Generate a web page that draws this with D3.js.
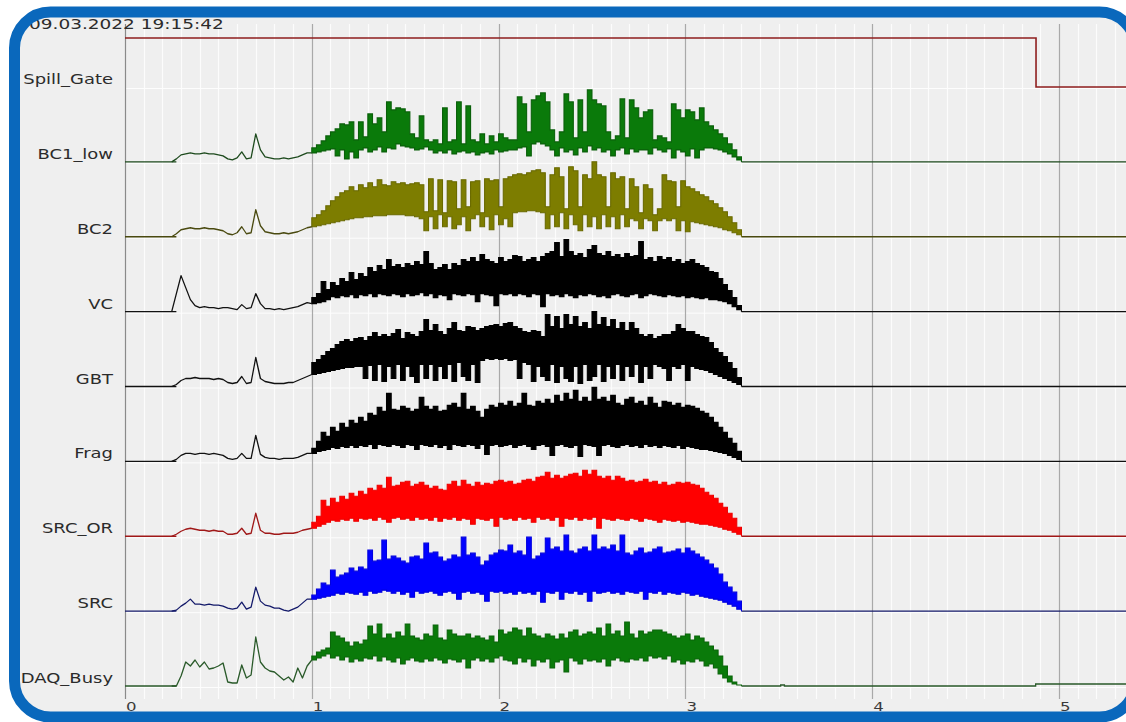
<!DOCTYPE html>
<html>
<head>
<meta charset="utf-8">
<script src="https://cdn.jsdelivr.net/npm/d3@7"></script>
<style>
  body { margin: 0; background: #fff; }
  text { font-family: "DejaVu Sans", Verdana, sans-serif; fill: #2b2b2b; }
</style>
</head>
<body>
<div class="vis-container"></div>
<script>
/* global d3 */

const TIMESTAMP = '09.03.2022 19:15:42';
const CHANNELS = ['Spill_Gate', 'BC1_low', 'BC2', 'VC', 'GBT', 'Frag', 'SRC_OR', 'SRC', 'DAQ_Busy'];
const X_TICKS = [0, 1, 2, 3, 4, 5];

// samples are uniform in time, first one at 0.275
const SAMPLE_START = 0.275;
const SAMPLE_STEP = 0.025;

const spillGateTimes = [0, 4.877];
const spillGateValues = [1, 0];

// quiet part before the spill (t = 0.275 .. 0.95), then min / max envelope (t = 1.0 .. 3.3)
const bc1LowTrace = [3, 7, 8, 9, 8, 8, 9, 8, 8, 7, 6, 3, 2, 4, 10, 3, 4, 28, 12, 5, 4, 3, 3, 4, 3, 4, 5, 7, 9];
const bc1LowMin = [
  9, 10, 11, 12, 13, 6, 12, 3, 10, 4,
  12, 14, 10, 12, 15, 10, 14, 13, 18, 16,
  15, 14, 12, 13, 15, 12, 9, 11, 9, 12,
  8, 10, 11, 9, 10, 7, 9, 10, 8, 12,
  10, 11, 12, 12, 14, 15, 6, 18, 20, 18,
  16, 12, 6, 14, 10, 12, 7, 14, 10, 16,
  12, 14, 10, 12, 6, 12, 14, 8, 13, 10,
  12, 12, 8, 14, 12, 10, 13, 4, 12, 10,
  6, 13, 4, 12, 14, 14, 13, 12, 10, 8,
  5, 2, 0];
const bc1LowMax = [
  14, 17, 21, 26, 30, 33, 38, 37, 40, 22,
  40, 25, 48, 38, 44, 30, 60, 52, 54, 53,
  50, 28, 24, 46, 22, 20, 22, 18, 54, 20,
  22, 60, 18, 56, 22, 20, 28, 18, 26, 20,
  28, 24, 22, 22, 65, 58, 30, 62, 66, 69,
  60, 32, 20, 30, 68, 60, 24, 62, 30, 72,
  62, 58, 56, 30, 22, 26, 63, 24, 62, 54,
  44, 50, 52, 22, 26, 24, 20, 58, 52, 44,
  52, 50, 42, 54, 40, 36, 32, 28, 24, 18,
  12, 5, 0];

const bc2Trace = [3, 7, 8, 9, 8, 8, 9, 8, 8, 7, 6, 3, 2, 4, 10, 3, 4, 27, 11, 5, 4, 3, 3, 4, 3, 4, 5, 7, 9];
const bc2Min = [
  10, 11, 12, 13, 14, 15, 16, 17, 18, 19,
  19, 20, 20, 21, 21, 21, 22, 22, 22, 22,
  21, 21, 20, 18, 6, 20, 8, 22, 10, 20,
  8, 12, 20, 6, 18, 22, 10, 20, 7, 22,
  12, 18, 10, 24, 25, 25, 26, 26, 25, 24,
  8, 22, 10, 24, 8, 22, 12, 6, 22, 10,
  20, 8, 22, 10, 20, 8, 22, 10, 18, 16,
  8, 18, 16, 6, 16, 18, 16, 18, 6, 16,
  5, 15, 14, 13, 12, 11, 10, 9, 7, 6,
  4, 2, 0];
const bc2Max = [
  19, 22, 26, 31, 36, 40, 44, 46, 50, 46,
  52, 49, 54, 50, 57, 52, 51, 55, 53, 54,
  52, 53, 54, 52, 25, 58, 26, 57, 24, 56,
  55, 28, 57, 30, 55, 56, 24, 58, 56, 57,
  30, 58, 60, 62, 63, 62, 64, 66, 67, 64,
  30, 62, 69, 60, 28, 70, 66, 30, 62, 58,
  75, 62, 60, 30, 64, 58, 60, 28, 58, 50,
  24, 52, 48, 22, 28, 62, 56, 55, 30, 56,
  50, 48, 45, 42, 40, 36, 33, 29, 25, 20,
  14, 7, 0];

const vcTrace = [18, 36, 24, 12, 6, 4, 5, 4, 4, 3, 4, 4, 3, 2, 7, 3, 4, 18, 8, 3, 3, 2, 3, 2, 3, 4, 5, 7, 9];
const vcMin = [
  8, 9, 10, 12, 15, 14, 16, 15, 17, 14,
  17, 16, 18, 15, 18, 17, 16, 18, 17, 15,
  18, 16, 17, 19, 16, 18, 14, 17, 16, 12,
  18, 17, 16, 18, 17, 10, 18, 17, 16, 6,
  18, 17, 18, 16, 18, 17, 15, 18, 17, 5,
  18, 16, 17, 15, 18, 16, 14, 17, 16, 18,
  17, 15, 16, 14, 17, 18, 16, 15, 17, 18,
  14, 16, 18, 17, 16, 15, 17, 16, 15, 16,
  14, 15, 14, 13, 14, 12, 12, 11, 10, 8,
  5, 2, 0];
const vcMax = [
  14, 18, 30, 22, 29, 26, 33, 30, 39, 32,
  38, 35, 44, 40, 46, 42, 52, 45, 47, 44,
  48, 46, 50, 47, 60, 48, 42, 44, 47, 42,
  48, 46, 52, 50, 54, 50, 57, 52, 50, 48,
  54, 50, 52, 56, 55, 50, 52, 54, 50, 55,
  58, 60, 69, 55, 72, 60, 56, 58, 54, 62,
  66, 58, 56, 60, 55, 57, 54, 58, 55, 56,
  70, 52, 54, 50, 55, 52, 54, 50, 52, 48,
  50, 52, 48, 46, 44, 40, 39, 33, 27, 21,
  14, 6, 0];

const gbtTrace = [2, 6, 8, 8, 9, 8, 8, 8, 7, 8, 7, 4, 3, 4, 10, 3, 4, 29, 8, 5, 4, 3, 3, 3, 4, 4, 6, 8, 10];
const gbtMin = [
  12, 13, 14, 15, 16, 17, 18, 19, 19, 20,
  20, 8, 21, 6, 22, 5, 20, 8, 22, 6,
  20, 10, 4, 22, 8, 22, 6, 20, 8, 22,
  5, 24, 10, 6, 22, 4, 26, 28, 27, 28,
  27, 28, 26, 27, 8, 24, 22, 5, 20, 10,
  6, 22, 4, 20, 8, 5, 20, 3, 22, 6,
  10, 22, 5, 20, 8, 22, 6, 20, 10, 22,
  4, 20, 8, 22, 20, 18, 6, 20, 18, 22,
  6, 20, 18, 17, 16, 14, 12, 10, 8, 6,
  4, 2, 0];
const gbtMax = [
  24, 27, 31, 35, 38, 42, 45, 47, 45, 48,
  49, 46, 50, 54, 50, 52, 50, 53, 57, 48,
  54, 52, 50, 55, 67, 56, 62, 55, 52, 58,
  64, 56, 55, 60, 59, 56, 58, 60, 61, 62,
  60, 63, 64, 60, 58, 55, 54, 56, 55, 50,
  72, 60, 70, 58, 72, 62, 70, 60, 64, 58,
  75, 62, 69, 60, 67, 58, 64, 56, 64, 58,
  52, 50, 52, 48, 50, 52, 52, 55, 62, 58,
  55, 55, 52, 50, 49, 44, 38, 34, 30, 24,
  18, 9, 0];

const fragTrace = [2, 6, 8, 8, 7, 8, 8, 7, 8, 7, 6, 3, 2, 3, 8, 3, 3, 26, 7, 4, 3, 3, 2, 3, 3, 3, 4, 6, 8];
const fragMin = [
  8, 10, 11, 12, 14, 13, 15, 14, 16, 14,
  16, 15, 17, 13, 17, 16, 15, 17, 16, 14,
  17, 16, 12, 17, 16, 15, 17, 14, 16, 12,
  17, 16, 15, 17, 16, 13, 17, 7, 16, 17,
  15, 16, 17, 14, 16, 17, 15, 12, 16, 17,
  15, 6, 16, 17, 15, 14, 16, 5, 17, 16,
  15, 6, 16, 17, 15, 14, 16, 17, 15, 16,
  14, 17, 15, 16, 14, 16, 15, 14, 16, 13,
  15, 14, 13, 12, 12, 11, 10, 9, 8, 6,
  4, 2, 0];
const fragMax = [
  13, 20, 29, 25, 34, 30, 38, 34, 41, 38,
  44, 40, 48, 46, 54, 50, 68, 52, 51, 55,
  53, 50, 52, 64, 55, 52, 55, 50, 51, 56,
  58, 54, 68, 52, 55, 50, 44, 52, 56, 54,
  58, 56, 60, 55, 58, 68, 56, 55, 60, 58,
  62, 58, 66, 60, 68, 62, 71, 60, 64, 60,
  74, 62, 64, 60, 66, 58, 56, 62, 64, 58,
  60, 56, 64, 58, 54, 60, 59, 56, 58, 54,
  56, 55, 53, 50, 48, 44, 39, 34, 29, 23,
  18, 10, 0];

const srcOrTrace = [2, 5, 7, 8, 7, 6, 6, 5, 6, 5, 5, 2, 2, 3, 8, 2, 3, 23, 6, 3, 3, 2, 2, 3, 3, 3, 4, 6, 7];
const srcOrMin = [
  8, 10, 12, 14, 16, 15, 17, 16, 18, 15,
  18, 17, 18, 16, 19, 17, 14, 18, 19, 17,
  18, 16, 19, 17, 18, 16, 19, 15, 18, 17,
  19, 16, 18, 17, 12, 18, 17, 16, 18, 10,
  19, 17, 18, 16, 19, 17, 18, 14, 19, 17,
  18, 16, 19, 10, 18, 17, 19, 16, 18, 17,
  19, 8, 18, 17, 16, 18, 17, 16, 18, 17,
  15, 18, 17, 16, 14, 17, 16, 15, 16, 14,
  15, 14, 13, 12, 12, 11, 10, 9, 7, 6,
  4, 2, 0];
const srcOrMax = [
  14, 20, 36, 30, 38, 34, 40, 37, 43, 40,
  45, 42, 48, 46, 51, 48, 59, 50, 51, 54,
  55, 50, 52, 54, 51, 48, 50, 47, 46, 52,
  55, 50, 56, 52, 50, 54, 51, 53, 52, 55,
  56, 54, 55, 52, 53, 56, 57, 55, 59, 60,
  64, 58, 61, 58, 60, 62, 63, 60, 66, 62,
  66, 60, 58, 60, 56, 60, 58, 55, 56, 54,
  55, 57, 54, 55, 52, 54, 51, 52, 54, 53,
  54, 52, 51, 48, 44, 41, 38, 33, 29, 23,
  18, 9, 0];

const srcTrace = [1, 5, 8, 12, 7, 7, 6, 7, 6, 6, 5, 3, 2, 3, 9, 2, 4, 24, 10, 6, 5, 3, 3, 1, 0, 2, 4, 8, 12];
const srcMin = [
  12, 13, 14, 15, 16, 18, 17, 19, 18, 17,
  19, 16, 20, 18, 19, 21, 20, 18, 20, 17,
  19, 14, 20, 18, 19, 20, 18, 16, 19, 20,
  18, 12, 19, 20, 18, 19, 17, 10, 20, 19,
  20, 18, 19, 17, 20, 18, 19, 17, 20, 9,
  19, 18, 20, 12, 19, 18, 20, 17, 19, 10,
  20, 18, 19, 20, 18, 19, 17, 20, 19, 18,
  20, 12, 19, 18, 20, 17, 19, 18, 17, 19,
  18, 16, 17, 15, 14, 13, 12, 11, 9, 7,
  5, 2, 0];
const srcMax = [
  16, 22, 28, 26, 41, 34, 36, 38, 43, 40,
  44, 42, 61, 50, 51, 71, 52, 55, 53, 50,
  48, 54, 55, 52, 68, 58, 59, 54, 50, 52,
  56, 54, 74, 56, 58, 54, 46, 50, 56, 58,
  61, 60, 66, 58, 60, 56, 74, 52, 55, 58,
  73, 62, 64, 60, 76, 60, 58, 62, 64, 60,
  76, 62, 64, 62, 66, 60, 76, 58, 56, 60,
  63, 58, 59, 62, 64, 58, 59, 60, 62, 58,
  63, 60, 57, 54, 51, 47, 43, 37, 29, 24,
  19, 10, 0];

const daqTrace = [0, 10, 24, 20, 26, 19, 24, 17, 18, 20, 23, 4, 3, 3, 21, 8, 11, 49, 24, 18, 15, 14, 10, 6, 9, 4, 18, 8, 20];
const daqMin = [
  26, 28, 30, 32, 28, 30, 26, 29, 24, 27,
  25, 28, 27, 30, 25, 29, 26, 24, 28, 22,
  26, 28, 25, 24, 27, 25, 28, 26, 23, 27,
  26, 24, 27, 18, 26, 28, 25, 27, 24, 28,
  30, 26, 25, 22, 28, 24, 27, 20, 26, 24,
  27, 18, 24, 26, 14, 28, 25, 22, 27, 25,
  26, 24, 27, 20, 26, 28, 25, 24, 27, 26,
  28, 25, 30, 28, 29, 27, 30, 24, 26, 22,
  25, 24, 27, 25, 20, 22, 18, 12, 8, 4,
  2, 1, 0];
const daqMax = [
  30, 34, 36, 38, 54, 50, 48, 44, 40, 44,
  42, 46, 60, 52, 62, 48, 52, 48, 54, 50,
  62, 50, 48, 46, 52, 50, 61, 48, 46, 56,
  52, 50, 50, 52, 48, 50, 48, 46, 50, 44,
  56, 52, 54, 58, 56, 50, 58, 52, 50, 48,
  52, 50, 47, 52, 48, 54, 56, 50, 52, 54,
  52, 58, 50, 62, 52, 55, 50, 64, 52, 48,
  55, 52, 54, 56, 56, 54, 52, 50, 48, 50,
  52, 46, 50, 48, 44, 40, 36, 30, 20, 10,
  4, 1, 0];
// after the spill DAQ_Busy still twitches a bit
const daqTailTimes = [3.3, 3.51, 3.53, 4.875];
const daqTailValues = [0, 1, 0, 2];

const SIGNALS = [
  {name: 'BC1_low', trace: bc1LowTrace, min: bc1LowMin, max: bc1LowMax, fill: '#0a7a0a', edge: '#0a600a', line: '#1d4a1d'},
  {name: 'BC2', trace: bc2Trace, min: bc2Min, max: bc2Max, fill: '#7d7d00', edge: '#6a6a00', line: '#4a4a10'},
  {name: 'VC', trace: vcTrace, min: vcMin, max: vcMax, fill: '#000', edge: '#000', line: '#111'},
  {name: 'GBT', trace: gbtTrace, min: gbtMin, max: gbtMax, fill: '#000', edge: '#000', line: '#111'},
  {name: 'Frag', trace: fragTrace, min: fragMin, max: fragMax, fill: '#000', edge: '#000', line: '#111'},
  {name: 'SRC_OR', trace: srcOrTrace, min: srcOrMin, max: srcOrMax, fill: '#ff0000', edge: '#ee0000', line: '#a01818'},
  {name: 'SRC', trace: srcTrace, min: srcMin, max: srcMax, fill: '#0000ff', edge: '#0000e0', line: '#141a6a'},
  {name: 'DAQ_Busy', trace: daqTrace, min: daqMin, max: daqMax, fill: '#0a7a0a', edge: '#0a650a', line: '#2a5a2a'}
];

document.addEventListener('DOMContentLoaded', () => {
  buildScope();
});

function buildScope() {
  const width = 1126;
  const height = 722;
  const stretch = 1.33; // the screenshot text is wide

  const svg = d3.select('.vis-container').append('svg')
    .attr('width', width)
    .attr('height', height);

  const x = d3.scaleLinear().domain([0, 5]).range([125, 1059]);
  const rowY = d3.scaleLinear().domain([0, CHANNELS.length - 1]).range([87, 686]);
  const amp = d3.scaleLinear().domain([0, 75]).range([0, -75]);
  const gateY = d3.scaleLinear().domain([0, 1]).range([0, -49]);
  const xEnd = x.invert(width + 10);

  svg.append('rect')
    .attr('width', width)
    .attr('height', height)
    .attr('fill', '#fff');

  // frame body
  const frame = {x: 14.5, y: 12, w: 1121, h: 705, r: 36};
  svg.append('rect')
    .attr('x', frame.x).attr('y', frame.y)
    .attr('width', frame.w).attr('height', frame.h)
    .attr('rx', frame.r)
    .attr('fill', '#efefef');

  // grid
  const minor = d3.range(1, 55).map(d => d / 10).filter(d => d % 1 !== 0);
  svg.selectAll('.minor').data(minor)
    .enter().append('line')
      .attr('class', 'minor')
      .attr('x1', d => Math.round(x(d)) + 0.5)
      .attr('x2', d => Math.round(x(d)) + 0.5)
      .attr('y1', 24)
      .attr('y2', 699)
      .attr('stroke', '#fcfcfc')
      .attr('stroke-width', 1.2);

  svg.selectAll('.row-sep').data(CHANNELS)
    .enter().append('line')
      .attr('class', 'row-sep')
      .attr('x1', x(0)).attr('x2', width)
      .attr('y1', (d, i) => rowY(i) + 1.5)
      .attr('y2', (d, i) => rowY(i) + 1.5)
      .attr('stroke', '#fdfdfd')
      .attr('stroke-width', 1);

  svg.selectAll('.major').data(X_TICKS)
    .enter().append('line')
      .attr('class', 'major')
      .attr('x1', d => Math.round(x(d)) + 0.5)
      .attr('x2', d => Math.round(x(d)) + 0.5)
      .attr('y1', 24)
      .attr('y2', 699)
      .attr('stroke', d => d === 0 ? '#8a8a8a' : '#a9a9a9')
      .attr('stroke-width', 1.2);

  svg.selectAll('.tick-label').data(X_TICKS)
    .enter().append('text')
      .attr('class', 'tick-label')
      .attr('transform', d => `translate(${x(d) + 1}, 711) scale(${stretch}, 1)`)
      .style('font-size', '12.5px')
      .style('fill', '#3a3a3a')
      .text(d => d);

  // channel names
  svg.selectAll('.channel').data(CHANNELS)
    .enter().append('text')
      .attr('class', 'channel')
      .attr('transform', (d, i) => `translate(113, ${rowY(i) - 3}) scale(${stretch}, 1)`)
      .attr('text-anchor', 'end')
      .style('font-size', '13.5px')
      .text(d => d);

  svg.append('text')
    .attr('transform', `translate(29, 29) scale(1.37, 1)`)
    .style('font-size', '13.5px')
    .text(TIMESTAMP);

  // Spill_Gate
  const gateData = spillGateTimes.map((t, i) => ({t, v: spillGateValues[i]}));
  gateData.push({t: xEnd, v: spillGateValues[spillGateValues.length - 1]});
  svg.append('g')
    .attr('transform', `translate(0, ${rowY(0)})`)
    .append('path')
      .attr('d', d3.line().x(d => x(d.t)).y(d => gateY(d.v)).curve(d3.curveStepAfter)(gateData))
      .attr('fill', 'none')
      .attr('stroke', '#8e1e1e')
      .attr('stroke-width', 1.6);

  const area = d3.area()
    .x(d => x(d.t))
    .y0(d => amp(d.lo))
    .y1(d => amp(d.hi))
    .curve(d3.curveStepAfter);
  const stepLine = d3.line()
    .x(d => x(d.t))
    .y(d => amp(d.lo))
    .curve(d3.curveStepAfter);
  const traceLine = d3.line()
    .x(d => x(d.t))
    .y(d => amp(d.lo));

  SIGNALS.forEach(s => {
    const lo = s.trace.concat(s.min);
    const hi = s.trace.concat(s.max);
    if (lo.length !== hi.length) throw new Error(s.name + ' length mismatch ' + lo.length + ' ' + hi.length);
    const pts = lo.map((v, i) => ({t: SAMPLE_START + i * SAMPLE_STEP, lo: v, hi: hi[i]}));
    const tLast = pts[pts.length - 1].t;
    const g = svg.append('g')
      .attr('class', 'signal')
      .attr('transform', `translate(0, ${rowY(CHANNELS.indexOf(s.name))})`);

    let tail = [{t: tLast, lo: 0}, {t: xEnd, lo: 0}];
    if (s.name === 'DAQ_Busy') {
      tail = daqTailTimes.map((t, i) => ({t, lo: daqTailValues[i]}));
      tail.push({t: xEnd, lo: daqTailValues[daqTailValues.length - 1]});
    }
    g.append('path')
      .attr('d', stepLine([{t: 0, lo: 0}, {t: SAMPLE_START, lo: 0}]))
      .attr('fill', 'none')
      .attr('stroke', s.line)
      .attr('stroke-width', 1.3);
    g.append('path')
      .attr('d', stepLine(tail))
      .attr('fill', 'none')
      .attr('stroke', s.line)
      .attr('stroke-width', 1.3);

    // busy part: min / max band
    g.append('path')
      .attr('d', area(pts.slice(s.trace.length)))
      .attr('fill', s.fill)
      .attr('stroke', s.edge)
      .attr('stroke-width', 1.1)
      .attr('stroke-linejoin', 'miter');

    // quiet part: plain trace
    g.append('path')
      .attr('d', traceLine([{t: SAMPLE_START - SAMPLE_STEP, lo: 0}].concat(pts.slice(0, s.trace.length + 1))))
      .attr('fill', 'none')
      .attr('stroke', s.line)
      .attr('stroke-width', 1.3)
      .attr('stroke-linejoin', 'round');
  });

  // frame border on top
  svg.append('rect')
    .attr('x', frame.x).attr('y', frame.y)
    .attr('width', frame.w).attr('height', frame.h)
    .attr('rx', frame.r)
    .attr('fill', 'none')
    .attr('stroke', '#0a68bc')
    .attr('stroke-width', 11);
}
</script>
</body>
</html>
